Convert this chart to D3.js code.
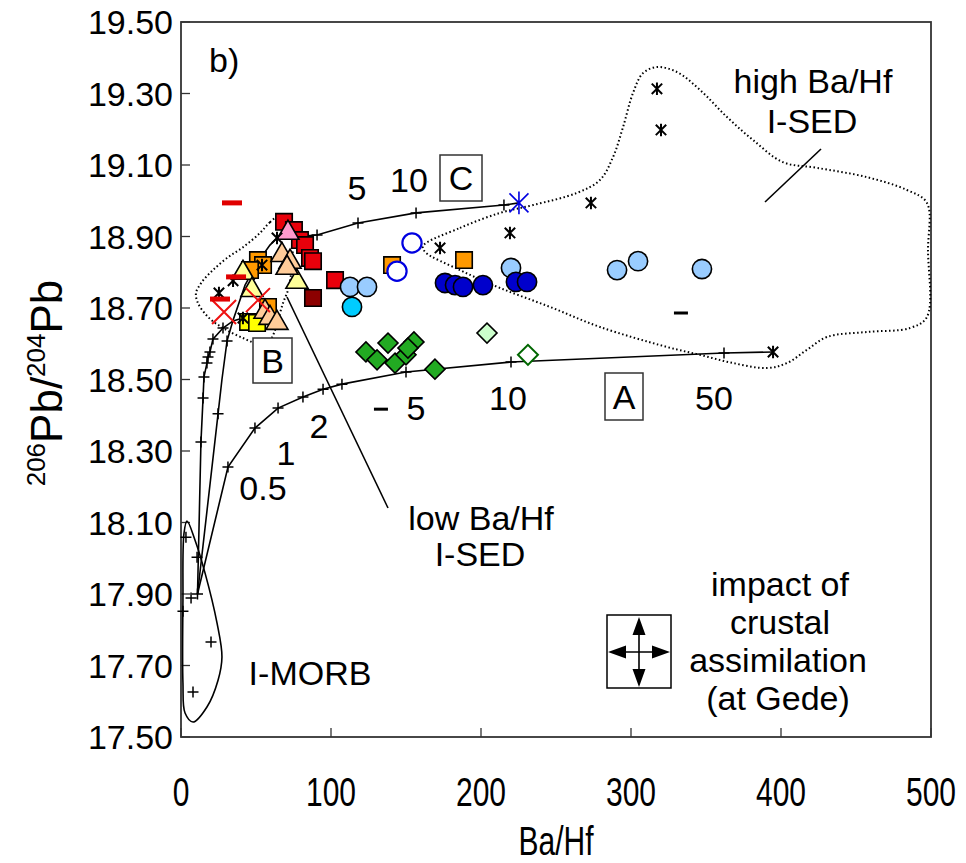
<!DOCTYPE html>
<html>
<head>
<meta charset="utf-8">
<script src="https://cdn.jsdelivr.net/npm/d3@7"></script>
<style>
body { margin: 0; background: #fff; }
text { font-family: "Liberation Sans", Arial, sans-serif; fill: #000; }
</style>
</head>
<body>
<script>
// axis ticks
var xTicks = [0, 100, 200, 300, 400, 500];
var yTicks = [17.5, 17.7, 17.9, 18.1, 18.3, 18.5, 18.7, 18.9, 19.1, 19.3, 19.5];

// field outlines (Ba/Hf, 206Pb/204Pb)
var morbOutline = [[4,18.104],[9.3,18.051],[16,17.959],[24,17.819],[27.3,17.724],[24.7,17.659],[17.3,17.584],[8,17.542],[2.7,17.567],[1.3,17.651],[1.3,17.883],[2,18.07]];
var lowSedOutline = [[66,18.96],[59.3,18.94],[52.7,18.91],[41.3,18.87],[30.7,18.84],[21.3,18.806],[14,18.773],[10,18.742],[11.3,18.714],[18,18.675],[28,18.644],[41.3,18.616],[52.7,18.599],[59.3,18.61],[62.7,18.638],[64.7,18.666],[68,18.714],[71.3,18.75],[74,18.82],[74,18.904],[70.7,18.957]];
var highSedOutline = [[161.3,18.873],[186,18.924],[212.7,18.966],[234.7,18.988],[264,19.022],[279.3,19.058],[288,19.122],[294.7,19.206],[301.3,19.301],[308,19.357],[317.3,19.374],[330.7,19.36],[346,19.31],[364,19.234],[381.3,19.17],[401.3,19.108],[424,19.092],[457.3,19.066],[484,19.03],[497.3,18.994],[498,18.862],[497.3,18.675],[486,18.644],[457.3,18.633],[430.7,18.619],[417.3,18.583],[404,18.546],[390.7,18.532],[368,18.546],[346,18.569],[324,18.591],[279.3,18.647],[246,18.703],[212.7,18.756],[186,18.806],[162.7,18.857]];

// mixing curves and their tick points
var curveA = [[11,17.9],[31.3,18.255],[49.3,18.364],[64.7,18.42],[81.3,18.451],[94.7,18.473],[107.3,18.487],[150,18.521],[220,18.549],[362,18.574],[394.7,18.577]];
var curveATicks = [[11,17.9],[31.3,18.255],[49.3,18.364],[64.7,18.42],[81.3,18.451],[94.7,18.473],[107.3,18.487],[150,18.521],[220,18.549],[362,18.574]];
var curveB = [[11,17.9],[13.3,18.325],[14.7,18.448],[15.3,18.507],[17.3,18.546],[18,18.563],[19.3,18.577],[21.3,18.613],[28,18.644],[34.7,18.664],[41.3,18.672]];
var curveBTicks = [[13.3,18.325],[14.7,18.448],[15.3,18.507],[17.3,18.546],[18,18.563],[19.3,18.577],[21.3,18.613],[28,18.644]];
var curveC = [[11,17.9],[24.7,18.404],[27.3,18.5],[30.7,18.608],[34.7,18.666],[42.7,18.764],[51.3,18.829],[59.3,18.876],[64,18.896],[90.7,18.904],[118,18.938],[156.7,18.966],[215.3,18.988],[225.3,18.994]];
var curveCTicks = [[24.7,18.404],[30.7,18.608],[90.7,18.904],[118,18.938],[156.7,18.966],[215.3,18.988]];

// samples
var morbSamples = [[3.3,18.059],[10.7,18.003],[6.7,17.889],[1.3,17.852],[20,17.766],[8,17.626]];
var sedAsterisks = [[25.3,18.742],[34.7,18.776],[41.3,18.672],[54,18.82],[64,18.896],[172.7,18.868],[219.3,18.91],[273.3,18.994],[317.3,19.313],[320,19.198],[394.7,18.577]];
var blueAsterisks = [[225.3,18.994]];
var redSquares = [[68.7,18.941],[75.3,18.918],[79.3,18.89],[82.7,18.876],[86,18.84],[88,18.831],[102.7,18.778]];
var darkRedSquares = [[88,18.728]];
var orangeSquares = [[51.3,18.834],[54.7,18.82],[46,18.806],[58,18.703],[140.7,18.82],[188.7,18.834]];
var yellowSquares = [[44.7,18.661],[50.7,18.658]];
var paleYellowTriangles = [[41.3,18.798],[47.3,18.75],[77.3,18.773]];
var peachTriangles = [[67.3,18.848],[72.7,18.829],[70.7,18.812],[56,18.689],[59.3,18.672],[64,18.658]];
var pinkTriangles = [[71.3,18.91]];
var lightBlueCircles = [[112.7,18.759],[124,18.759],[220,18.812],[290.7,18.806],[304.7,18.831],[347.3,18.809]];
var cyanCircles = [[114,18.703]];
var blueCircles = [[176,18.77],[182.7,18.764],[188,18.759],[201.3,18.764],[223.3,18.773],[230.7,18.773]];
var openBlueCircles = [[154,18.882],[144,18.803]];
var greenDiamonds = [[123.3,18.577],[130.7,18.555],[138,18.602],[142.7,18.546],[150,18.569],[155.3,18.605],[151.3,18.588],[169.3,18.529]];
var paleGreenDiamonds = [[204,18.63]];
var openGreenDiamonds = [[231.3,18.569]];
var redCrosses = [[28.7,18.689],[51.3,18.722]];
var redDashes = [[34,18.994],[26,18.725],[36.7,18.787]];
var blackDashes = [[333.3,18.686],[133.3,18.417]];

var svg = d3.select("body").append("svg")
  .attr("width", 966)
  .attr("height", 863);

var x = d3.scaleLinear().domain([0, 500]).range([181, 931]);
var y = d3.scaleLinear().domain([17.5, 19.5]).range([737, 22]);

// frame
svg.append("rect")
  .attr("x", x(0)).attr("y", y(19.5))
  .attr("width", x(500) - x(0)).attr("height", y(17.5) - y(19.5))
  .attr("fill", "none").attr("stroke", "#333").attr("stroke-width", 1.8);

// inward ticks
svg.selectAll("line.ytick").data(yTicks).enter().append("line")
  .attr("class", "ytick")
  .attr("x1", x(0)).attr("x2", x(0) + 9)
  .attr("y1", d => y(d)).attr("y2", d => y(d))
  .attr("stroke", "#333").attr("stroke-width", 1.3);
svg.selectAll("line.xtick").data(xTicks).enter().append("line")
  .attr("class", "xtick")
  .attr("x1", d => x(d)).attr("x2", d => x(d))
  .attr("y1", y(17.5)).attr("y2", y(17.5) - 9)
  .attr("stroke", "#333").attr("stroke-width", 1.3);

// tick labels
svg.selectAll("text.ylab").data(yTicks).enter().append("text")
  .attr("class", "ylab")
  .attr("x", 173).attr("y", d => y(d) + 12)
  .attr("text-anchor", "end")
  .style("font-size", "34px")
  .text(d => d3.format(".2f")(d));
svg.selectAll("text.xlab").data(xTicks).enter().append("text")
  .attr("class", "xlab")
  .attr("transform", d => `translate(${x(d)},806) scale(0.75,1)`)
  .attr("text-anchor", "middle")
  .style("font-size", "40px")
  .text(d => d);

// axis titles
svg.append("text")
  .attr("transform", "translate(556,855) scale(0.75,1)")
  .attr("text-anchor", "middle")
  .style("font-size", "40px")
  .text("Ba/Hf");
var yt = svg.append("text")
  .attr("transform", "translate(62,383) rotate(-90)")
  .attr("text-anchor", "middle")
  .style("font-size", "44px");
yt.append("tspan").style("font-size", "26px").attr("dy", -17).text("206");
yt.append("tspan").attr("dy", 17).text("Pb/");
yt.append("tspan").style("font-size", "26px").attr("dy", -17).text("204");
yt.append("tspan").attr("dy", 17).text("Pb");

// field outlines
var outline = d3.line().x(d => x(d[0])).y(d => y(d[1])).curve(d3.curveCatmullRomClosed.alpha(0.5));
svg.append("path").attr("d", outline(morbOutline))
  .attr("fill", "none").attr("stroke", "#000").attr("stroke-width", 1.6);
svg.append("path").attr("d", outline(lowSedOutline))
  .attr("fill", "none").attr("stroke", "#000").attr("stroke-width", 2)
  .attr("stroke-dasharray", "1.5,2.5");
svg.append("path").attr("d", outline(highSedOutline))
  .attr("fill", "none").attr("stroke", "#000").attr("stroke-width", 2)
  .attr("stroke-dasharray", "1.5,2.5");

// mixing curves
var line = d3.line().x(d => x(d[0])).y(d => y(d[1]));
[curveA, curveB, curveC].forEach(function(c) {
  svg.append("path").attr("d", line(c))
    .attr("fill", "none").attr("stroke", "#000").attr("stroke-width", 1.6);
});

function plus(d, s) {
  var cx = x(d[0]), cy = y(d[1]);
  return `M${cx - s},${cy}H${cx + s}M${cx},${cy - s}V${cy + s}`;
}
function aster(d, s) {
  var cx = x(d[0]), cy = y(d[1]);
  return `M${cx - s},${cy - s}L${cx + s},${cy + s}M${cx - s},${cy + s}L${cx + s},${cy - s}M${cx},${cy - s * 1.2}V${cy + s * 1.2}`;
}
function cross(d, s) {
  var cx = x(d[0]), cy = y(d[1]);
  return `M${cx - s},${cy - s}L${cx + s},${cy + s}M${cx - s},${cy + s}L${cx + s},${cy - s}`;
}

svg.append("path")
  .attr("d", curveATicks.concat(curveBTicks, curveCTicks, morbSamples).map(d => plus(d, 5.5)).join(""))
  .attr("stroke", "#000").attr("stroke-width", 1.5).attr("fill", "none");

// leader lines
svg.append("line").attr("x1", 287).attr("y1", 297).attr("x2", 388).attr("y2", 508)
  .attr("stroke", "#000").attr("stroke-width", 1.6);
svg.append("line").attr("x1", 765).attr("y1", 202).attr("x2", 821).attr("y2", 149)
  .attr("stroke", "#000").attr("stroke-width", 1.6);

// markers
function symbols(data, type, size, fill, stroke, rot, sw) {
  svg.append("g").selectAll("path").data(data).enter().append("path")
    .attr("d", d3.symbol().type(type).size(size))
    .attr("transform", d => `translate(${x(d[0])},${y(d[1])})` + (rot ? ` rotate(${rot})` : ""))
    .attr("fill", fill).attr("stroke", stroke).attr("stroke-width", sw || 1.6);
}
symbols(redSquares, d3.symbolSquare, 270, "#e8000b", "#000");
symbols(darkRedSquares, d3.symbolSquare, 270, "#8c0000", "#000");
symbols(orangeSquares, d3.symbolSquare, 270, "#ff9900", "#000");
symbols(yellowSquares, d3.symbolSquare, 270, "#ffff00", "#000");
symbols(paleYellowTriangles, d3.symbolTriangle, 210, "#ffff99", "#000");
symbols(peachTriangles, d3.symbolTriangle, 210, "#ffcc99", "#000");
symbols(pinkTriangles, d3.symbolTriangle, 210, "#ff99cc", "#000");
symbols(lightBlueCircles, d3.symbolCircle, 290, "#99ccff", "#000");
symbols(cyanCircles, d3.symbolCircle, 290, "#00ccff", "#000");
symbols(blueCircles, d3.symbolCircle, 290, "#0000cc", "#000");
symbols(openBlueCircles, d3.symbolCircle, 290, "#fff", "#0000e0", 0, 2.2);
symbols(greenDiamonds, d3.symbolSquare, 200, "#22aa22", "#000", 45);
symbols(paleGreenDiamonds, d3.symbolSquare, 200, "#ccffcc", "#000", 45);
symbols(openGreenDiamonds, d3.symbolSquare, 200, "#fff", "#006600", 45, 2);

svg.append("path").attr("d", sedAsterisks.map(d => aster(d, 5.2)).join(""))
  .attr("stroke", "#000").attr("stroke-width", 2).attr("fill", "none");
svg.append("path").attr("d", blueAsterisks.map(d => aster(d, 9.5)).join(""))
  .attr("stroke", "#0000e0").attr("stroke-width", 1.6).attr("fill", "none");
svg.append("path").attr("d", redCrosses.map(d => cross(d, 12)).join(""))
  .attr("stroke", "#ee1111").attr("stroke-width", 2).attr("fill", "none");
svg.selectAll("rect.rdash").data(redDashes).enter().append("rect")
  .attr("class", "rdash")
  .attr("x", d => x(d[0]) - 10).attr("y", d => y(d[1]) - 2.5)
  .attr("width", 20).attr("height", 5).attr("fill", "#e00000");
svg.selectAll("rect.bdash").data(blackDashes).enter().append("rect")
  .attr("class", "bdash")
  .attr("x", d => x(d[0]) - 7).attr("y", d => y(d[1]) - 1.5)
  .attr("width", 14).attr("height", 3).attr("fill", "#000");

// annotations
function label(t, px, py, anchor) {
  return svg.append("text").attr("x", px).attr("y", py)
    .attr("text-anchor", anchor || "middle")
    .style("font-size", "34px").text(t);
}
label("b)", 209, 72, "start");
label("0.5", 263, 500);
label("1", 286, 465);
label("2", 319, 438);
label("5", 416, 420);
label("10", 508, 410);
label("50", 714, 410);
label("5", 357, 200);
label("10", 409, 192);
label("I-MORB", 310, 685);
label("low Ba/Hf", 481, 530);
label("I-SED", 480, 566);
label("high Ba/Hf", 813, 93);
label("I-SED", 812, 133);
label("impact of", 780, 596);
label("crustal", 780, 634);
label("assimilation", 778, 672);
label("(at Gede)", 778, 710);

// boxed end-member letters
[["A", 605, 373, 38, 47], ["B", 253, 338, 39, 45], ["C", 440, 155, 42, 46]].forEach(function(b) {
  svg.append("rect").attr("x", b[1]).attr("y", b[2]).attr("width", b[3]).attr("height", b[4])
    .attr("fill", "#fff").attr("stroke", "#333").attr("stroke-width", 1.5);
  label(b[0], b[1] + b[3] / 2, b[2] + b[4] / 2 + 12);
});

// crustal assimilation arrows
svg.append("rect").attr("x", 607).attr("y", 615).attr("width", 64).attr("height", 73)
  .attr("fill", "none").attr("stroke", "#000").attr("stroke-width", 1.5);
svg.append("path").attr("d", "M639,630V672M622,652H656")
  .attr("stroke", "#000").attr("stroke-width", 1.6);
svg.append("path")
  .attr("d", "M639,617L632.5,635H645.5ZM639,687L632.5,669H645.5ZM608,652L626,645.5V658.5ZM670,652L652,645.5V658.5Z")
  .attr("fill", "#000");
</script>
</body>
</html>
